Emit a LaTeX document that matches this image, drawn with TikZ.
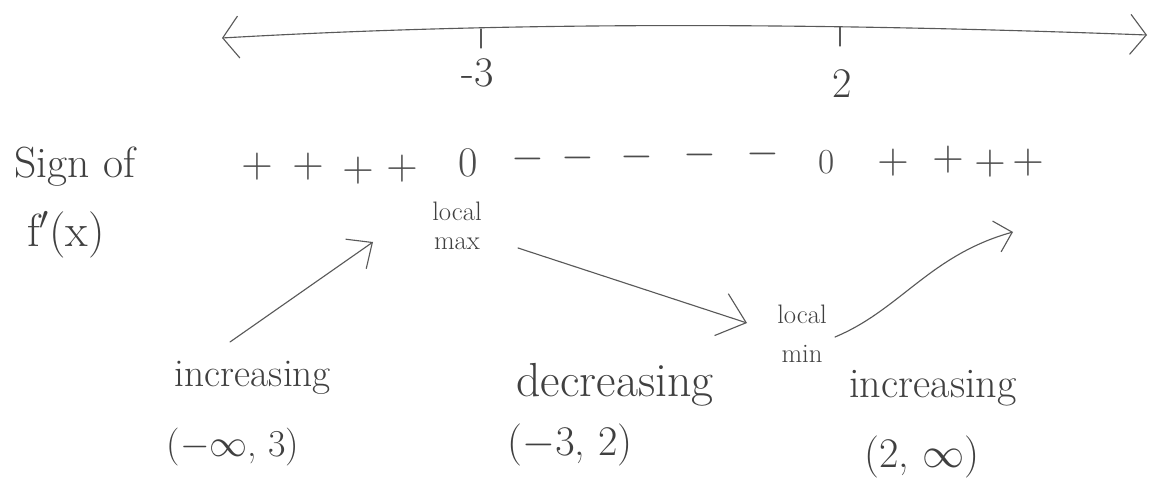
\RequirePackage{fix-cm}
\documentclass[tikz,border=0pt]{standalone}
\usetikzlibrary{arrows.meta}
\tikzset{
    pencil/.style={draw=black!65, line width=0.8pt, line cap=round},
    hand/.style={text=black!75, inner sep=0pt, font=\fontsize{28}{32}\selectfont},
    tiny/.style={text=black!75, inner sep=0pt, align=center, font=\fontsize{19}{21}\selectfont},
    signmark/.style={text=black!70, inner sep=0pt, font=\fontsize{31}{31}\selectfont},
}
\begin{document}
\begin{tikzpicture}[x=0.025cm,y=-0.025cm]
    \useasboundingbox (0,0) rectangle (1151,484);
    % number line
    \coordinate (lineL) at (222,38);
    \coordinate (lineR) at (1147,35);
    \draw[pencil, {Straight Barb[length=4mm,width=10.5mm]}-{Straight Barb[length=4mm,width=10mm]}]
        (lineL) .. controls (500,22) and (800,22) .. (lineR);
    \draw[pencil] (481,29) -- (481,48);
    \draw[pencil] (840,27) -- (840,46);
    \node[hand, font=\fontsize{30}{32}\selectfont] (crit1) at (478,73) {-3};
    \node[hand, font=\fontsize{30}{32}\selectfont] (crit2) at (842,84) {2};
    % sign of f'(x)
    \node[hand, font=\fontsize{31}{34}\selectfont] (signlbl) at (75,167) {Sign of};
    \node[hand, font=\fontsize{33}{36}\selectfont] (fprime) at (66,235) {f$'$(x)};
    \foreach \x/\y [count=\i] in {257/167, 308/167, 358/171, 402/169}
        \node[signmark] (plusL\i) at (\x,\y) {$+$};
    \node[signmark, font=\fontsize{30}{30}\selectfont] (zero1) at (468,163) {0};
    \foreach \x/\y [count=\i] in {528/159, 578/158, 637/157, 700/155, 763/154}
        \node[signmark, font=\fontsize{30}{30}\selectfont] (minus\i) at (\x,\y) {$-$};
    \node[signmark, font=\fontsize{25}{25}\selectfont] (zero2) at (827,162) {0};
    \foreach \x/\y [count=\i] in {893/163, 948/160, 990/164, 1028/163}
        \node[signmark] (plusR\i) at (\x,\y) {$+$};
    % extrema
    \node[tiny] (lmax) at (457,226) {local\\max};
    \node[tiny, font=\fontsize{19}{28}\selectfont] (lmin) at (802,334) {local\\min};
    % behaviour of f
    \node[hand] (inc1) at (253,378) {increasing};
    \node[hand, font=\fontsize{27}{30}\selectfont] (int1) at (233,447) {($-\infty$, 3)};
    \node[hand, font=\fontsize{34}{38}\selectfont] (dec) at (615,385) {decreasing};
    \node[hand, font=\fontsize{30}{34}\selectfont] (int2) at (570,445) {($-3$, 2)};
    \node[hand, font=\fontsize{30}{34}\selectfont] (inc2) at (933,388) {increasing};
    \node[hand, font=\fontsize{30}{34}\selectfont] (int3) at (922,457) {(2, $\infty$)};
    % arrows
    \coordinate (up1s) at (230,342);
    \coordinate (up1e) at (373,242);
    \coordinate (downs) at (518,248);
    \coordinate (downe) at (747,323);
    \coordinate (up2s) at (835,337);
    \coordinate (up2e) at (1013,232);
    \draw[pencil, -{Straight Barb[length=5mm,width=9mm]}] (up1s) -- (up1e);
    \draw[pencil, -{Straight Barb[length=6.5mm,width=11mm]}] (downs) -- (downe);
    \draw[pencil, -{Straight Barb[length=4mm,width=8mm]}] (up2s) .. controls (900,310) and (930,255) .. (up2e);
\end{tikzpicture}
\end{document}
